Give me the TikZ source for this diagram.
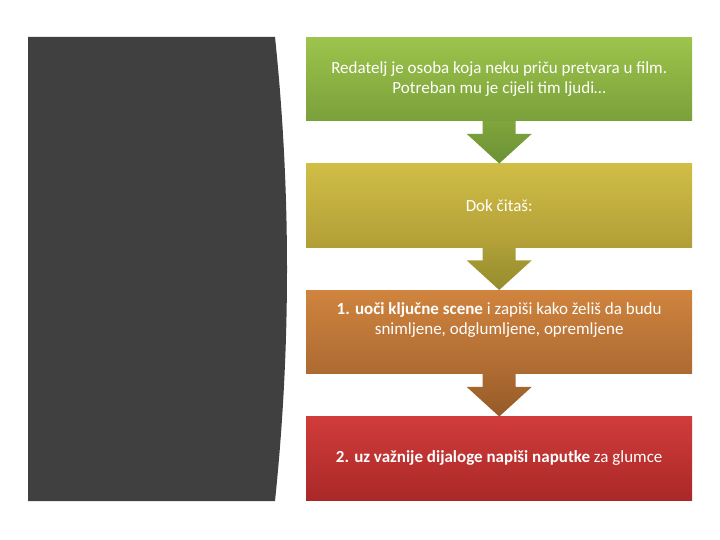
\documentclass[tikz,border=0pt]{standalone}
\usepackage{fontspec}
\setmainfont{Carlito}
\begin{document}
\begin{tikzpicture}[x=1pt,y=-1pt,
  stepbox/.style={minimum width=386pt,minimum height=83.5pt,inner sep=0pt,text=white,align=center,font=\fontsize{17}{19.5}\selectfont},
  steptext/.style={inner sep=0pt,text=white,align=center,font=\fontsize{17}{19.5}\selectfont}]
\useasboundingbox (0,0) rectangle (720,540);
\fill[white] (0,0) rectangle (720,540);
% left panel
\fill[fill={rgb,255:red,64;green,64;blue,64}] (28,37) -- (275,37) .. controls (291,190) and (291,348) .. (275,501) -- (28,501) -- cycle;
% colours
\definecolor{gA}{RGB}{157,196,76}\definecolor{gB}{RGB}{122,160,58}
\definecolor{yA}{RGB}{208,190,70}\definecolor{yB}{RGB}{178,158,55}
\definecolor{oA}{RGB}{208,132,62}\definecolor{oB}{RGB}{172,106,50}
\definecolor{rA}{RGB}{208,60,58}\definecolor{rB}{RGB}{170,40,40}
\definecolor{agA}{RGB}{128,165,60}\definecolor{agB}{RGB}{108,145,52}
\definecolor{ayA}{RGB}{172,158,55}\definecolor{ayB}{RGB}{150,140,45}
\definecolor{aoA}{RGB}{172,106,48}\definecolor{aoB}{RGB}{150,90,40}
% boxes
\node[stepbox,top color=gA,bottom color=gB,anchor=north west] (b1) at (306,37) {Redatelj je osoba koja neku priču pretvara u film.\\Potreban mu je cijeli tim ljudi…};
\node[stepbox,top color=yA,bottom color=yB,anchor=north west] (b2) at (306,163.5) {Dok čitaš:};
\node[stepbox,top color=oA,bottom color=oB,anchor=north west] (b3) at (306,290) {};
\node[steptext] (t3) at ([yshift=12pt]b3.center) {\textbf{1. uoči ključne scene} i zapiši kako želiš da budu\\snimljene, odglumljene, opremljene};
\node[stepbox,top color=rA,bottom color=rB,anchor=north west] (b4) at (306,416.5) {\textbf{2. uz važnije dijaloge napiši naputke} za glumce};
% arrows
\foreach \a/\b/\c/\d in {b1/b2/agA/agB,b2/b3/ayA/ayB,b3/b4/aoA/aoB}{
  \path[top color=\c,bottom color=\d]
    ([xshift=-16.5pt]\a.south) -- ([xshift=16.5pt]\a.south) -- ([xshift=16.5pt,yshift=-13pt]\a.south)
    -- ([xshift=32.5pt,yshift=-13pt]\a.south) -- (\b.north) -- ([xshift=-32.5pt,yshift=-13pt]\a.south)
    -- ([xshift=-16.5pt,yshift=-13pt]\a.south) -- cycle;
}
\end{tikzpicture}
\end{document}
